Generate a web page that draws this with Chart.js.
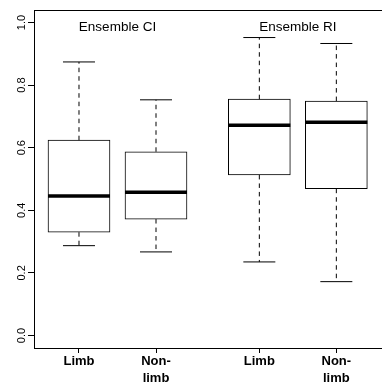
<!DOCTYPE html>
<html>
<head>
<meta charset="utf-8">
<script src="https://cdn.jsdelivr.net/npm/chart.js@4/dist/chart.umd.min.js"></script>
<style>
  html, body { margin: 0; padding: 0; background: #fff; }
  #wrap { width: 382px; height: 390px; }
</style>
</head>
<body>
<div id="wrap"><canvas id="chart"></canvas></div>
<script>
// box summaries
const categories = ['Limb', ['Non-', 'limb'], 'Limb', ['Non-', 'limb']];
const groups = ['Ensemble CI', 'Ensemble RI'];
const lowerWhisker = [0.287, 0.267, 0.235, 0.172];
const q1 = [0.330, 0.372, 0.513, 0.469];
const median = [0.446, 0.458, 0.672, 0.681];
const q3 = [0.624, 0.587, 0.755, 0.749];
const upperWhisker = [0.874, 0.753, 0.952, 0.933];
const yTicks = [0, 0.2, 0.4, 0.6, 0.8, 1.0];

// where the boxes sit on the x axis (wider gap between the two groups)
const boxAt = [1, 2, 3.342, 4.342];

function whiskerPoints() {
  let pts = [];
  boxAt.forEach(function(x, i) {
    pts.push({x: x, y: q3[i]}, {x: x, y: upperWhisker[i]}, {x: x, y: null});
    pts.push({x: x, y: q1[i]}, {x: x, y: lowerWhisker[i]}, {x: x, y: null});
  });
  return pts;
}

function capPoints() {
  let pts = [];
  boxAt.forEach(function(x, i) {
    pts.push({x: x, y: upperWhisker[i]}, {x: x, y: lowerWhisker[i]});
  });
  return pts;
}

const frameAndGroups = {
  id: 'frameAndGroups',
  afterDatasetsDraw(chart) {
    const ctx = chart.ctx;
    const area = chart.chartArea;
    const xs = chart.scales.x;
    ctx.save();
    ctx.strokeStyle = '#000';
    ctx.lineWidth = 1;
    ctx.beginPath();
    ctx.moveTo(area.left, area.top + 0.5);
    ctx.lineTo(area.right, area.top + 0.5);
    ctx.stroke();
    ctx.fillStyle = '#000';
    ctx.font = '13.5px "Liberation Sans", Arial, sans-serif';
    ctx.textAlign = 'center';
    ctx.textBaseline = 'middle';
    groups.forEach(function(g, k) {
      const cx = (xs.getPixelForValue(boxAt[2 * k]) + xs.getPixelForValue(boxAt[2 * k + 1])) / 2;
      ctx.fillText(g, cx, area.top + 17);
    });
    ctx.restore();
  }
};

Chart.defaults.font.family = '"Liberation Sans", Arial, sans-serif';
Chart.defaults.color = '#000';

new Chart(document.getElementById('chart'), {
  type: 'bar',
  data: {
    datasets: [
      {
        type: 'line',
        data: boxAt.map((x, i) => ({x: x, y: median[i]})),
        showLine: false,
        pointStyle: 'line',
        pointRadius: 31,
        pointBorderWidth: 3.5,
        pointBorderColor: '#000',
        order: 0
      },
      {
        type: 'line',
        data: capPoints(),
        showLine: false,
        pointStyle: 'line',
        pointRadius: 16,
        pointBorderWidth: 1,
        pointBorderColor: '#000',
        order: 1
      },
      {
        type: 'line',
        data: whiskerPoints(),
        borderColor: '#000',
        borderWidth: 1,
        borderDash: [4.5, 4],
        pointRadius: 0,
        spanGaps: false,
        order: 2
      },
      {
        data: boxAt.map((x, i) => ({x: x, y: [q1[i], q3[i]]})),
        backgroundColor: '#fff',
        borderColor: '#000',
        borderWidth: 1,
        borderSkipped: false,
        barThickness: 62,
        order: 3
      }
    ]
  },
  options: {
    responsive: true,
    maintainAspectRatio: false,
    animation: false,
    events: [],
    layout: { autoPadding: false, padding: { top: 10, right: 0, left: 0, bottom: 0 } },
    plugins: {
      legend: { display: false },
      tooltip: { enabled: false }
    },
    scales: {
      x: {
        type: 'linear',
        offset: false,
        min: 0.4156,
        max: 4.935,
        afterBuildTicks: function(scale) {
          scale.ticks = boxAt.map(v => ({value: v}));
        },
        afterFit: function(scale) {
          scale.height = 42;
          scale.paddingLeft = 0;
          scale.paddingRight = 0;
        },
        grid: { drawOnChartArea: false, offset: false, color: '#000', tickLength: 5 },
        border: { color: '#000', width: 1 },
        ticks: {
          autoSkip: false,
          maxRotation: 0,
          padding: 0,
          font: { size: 13, weight: 'bold', lineHeight: 1.3 },
          callback: function(value, index) { return categories[index]; }
        }
      },
      y: {
        min: -0.04,
        max: 1.04,
        afterBuildTicks: function(scale) {
          scale.ticks = yTicks.map(v => ({value: v}));
        },
        afterFit: function(scale) {
          scale.width = 34;
          scale.paddingTop = 0;
          scale.paddingBottom = 0;
        },
        grid: { drawOnChartArea: false, color: '#000', tickLength: 6 },
        border: { color: '#000', width: 1 },
        ticks: {
          autoSkip: false,
          minRotation: 90,
          maxRotation: 90,
          crossAlign: 'center',
          padding: -2,
          font: { size: 11 },
          callback: function(value) { return value.toFixed(1); }
        }
      }
    }
  },
  plugins: [frameAndGroups]
});
</script>
</body>
</html>
